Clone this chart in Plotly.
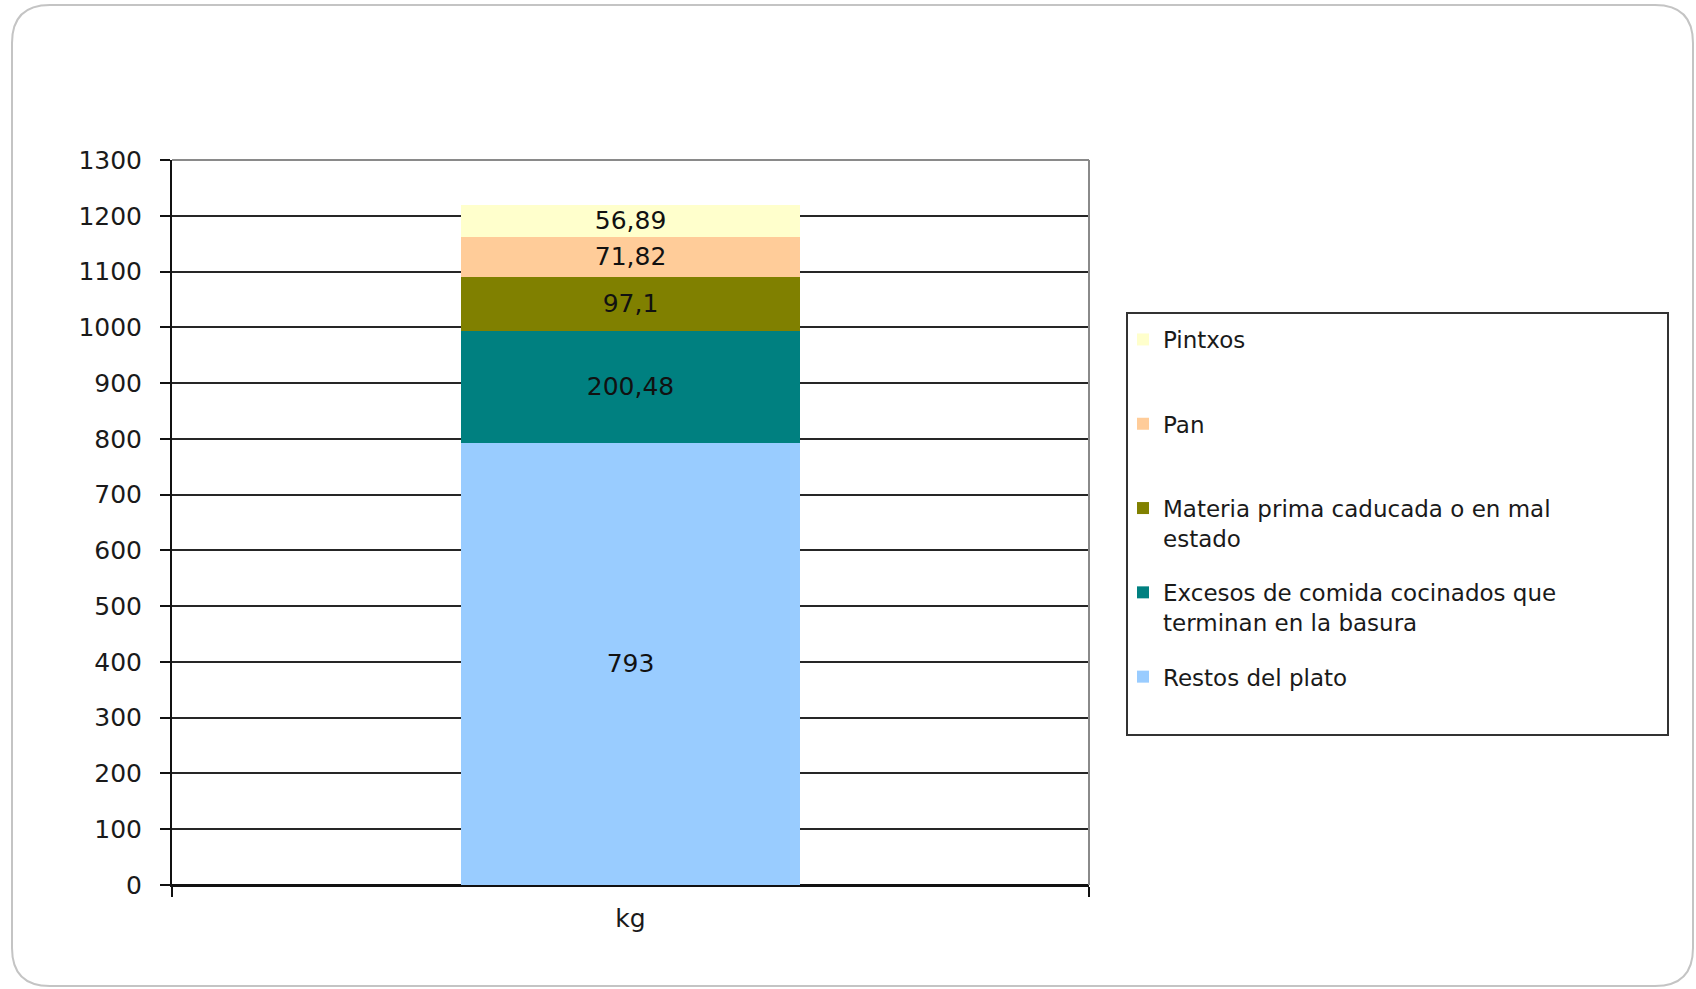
import plotly.graph_objects as go

# ---- data ----
category = ["kg"]
series_names = [
    "Restos del plato",
    "Excesos de comida cocinados que terminan en la basura",
    "Materia prima caducada o en mal estado",
    "Pan",
    "Pintxos",
]
legend_labels = [
    "Restos del plato<br>&nbsp;",
    "Excesos de comida cocinados que<br>terminan en la basura",
    "Materia prima caducada o en mal<br>estado",
    "Pan<br>&nbsp;",
    "Pintxos<br>&nbsp;",
]
values = [793, 200.48, 97.1, 71.82, 56.89]
colors = ["#99CCFF", "#008080", "#808000", "#FFCC99", "#FFFFCC"]
y_ticks = list(range(0, 1301, 100))

W, H = 1696, 989
L, R, T, B = 172, 1089, 160, 885  # plot area in pixels


def px(x):
    return (x - L) / (R - L)


def py(y):
    return (B - y) / (B - T)


fig = go.Figure()
n = len(series_names)
for i, (name, lab, v, c) in enumerate(zip(series_names, legend_labels, values, colors)):
    fig.add_trace(go.Bar(
        x=category, y=[v], name=lab, legendgroup=name, legendrank=n - i,
        marker=dict(color=c, line=dict(width=0)),
        width=0.37,
        texttemplate="%{y:.2~f}", textposition="inside",
        insidetextanchor="middle", textangle=0, constraintext="none",
        textfont=dict(size=25, color="#111111", family="DejaVu Sans"),
        hoverinfo="skip",
    ))

# outer rounded frame
x0, x1, y0, y1, r = 12, 1693, 5, 986, 38
pts = [
    ("M", [(x0 + r, y0)]), ("L", [(x1 - r, y0)]), ("Q", [(x1, y0), (x1, y0 + r)]),
    ("L", [(x1, y1 - r)]), ("Q", [(x1, y1), (x1 - r, y1)]),
    ("L", [(x0 + r, y1)]), ("Q", [(x0, y1), (x0, y1 - r)]),
    ("L", [(x0, y0 + r)]), ("Q", [(x0, y0), (x0 + r, y0)]),
]
path = " ".join(cmd + " " + " ".join(f"{px(a):.5f},{py(b):.5f}" for a, b in p) for cmd, p in pts) + " Z"

shapes = [
    dict(type="path", xref="paper", yref="paper", path=path,
         line=dict(color="#C4C4C4", width=2), layer="below"),
    # legend box
    dict(type="rect", xref="paper", yref="paper",
         x0=px(1127), x1=px(1668), y0=py(313), y1=py(735),
         line=dict(color="#333333", width=2), fillcolor="rgba(0,0,0,0)"),
    # top & right plot border (gray)
    dict(type="line", xref="paper", yref="paper", x0=0, x1=1, y0=1, y1=1,
         line=dict(color="#8A8A8A", width=2)),
    dict(type="line", xref="paper", yref="paper", x0=1, x1=1, y0=0, y1=1,
         line=dict(color="#8A8A8A", width=2)),
]

fig.update_layout(
    width=W, height=H,
    margin=dict(l=L, r=W - R, t=T, b=H - B, pad=0),
    paper_bgcolor="white", plot_bgcolor="white",
    font=dict(family="DejaVu Sans", size=25, color="#1a1a1a"),
    barmode="stack",
    separators=",.",
    showlegend=True,
    legend=dict(
        x=px(1123), y=py(318), xanchor="left", yanchor="top",
        traceorder="grouped", tracegroupgap=21.5, valign="top",
        font=dict(size=23, family="DejaVu Sans", color="#1a1a1a"),
        bgcolor="rgba(0,0,0,0)", borderwidth=0,
    ),
    shapes=shapes,
    xaxis=dict(
        type="category", showgrid=False, showline=True, linecolor="#111111", linewidth=2,
        ticks="outside", tickson="boundaries", ticklen=10, tickcolor="#111111", tickwidth=2,
        ticklabelstandoff=10, tickfont=dict(size=25), fixedrange=True,
    ),
    yaxis=dict(
        range=[0, 1300], tickvals=y_ticks, showgrid=True, gridcolor="#262626", gridwidth=1.6,
        zeroline=True, zerolinecolor="#111111", zerolinewidth=2.5,
        showline=True, linecolor="#111111", linewidth=2,
        ticks="outside", ticklen=10, tickcolor="#111111", tickwidth=2,
        ticklabelstandoff=13, tickfont=dict(size=25), fixedrange=True,
    ),
)

fig.write_html("out.html")
